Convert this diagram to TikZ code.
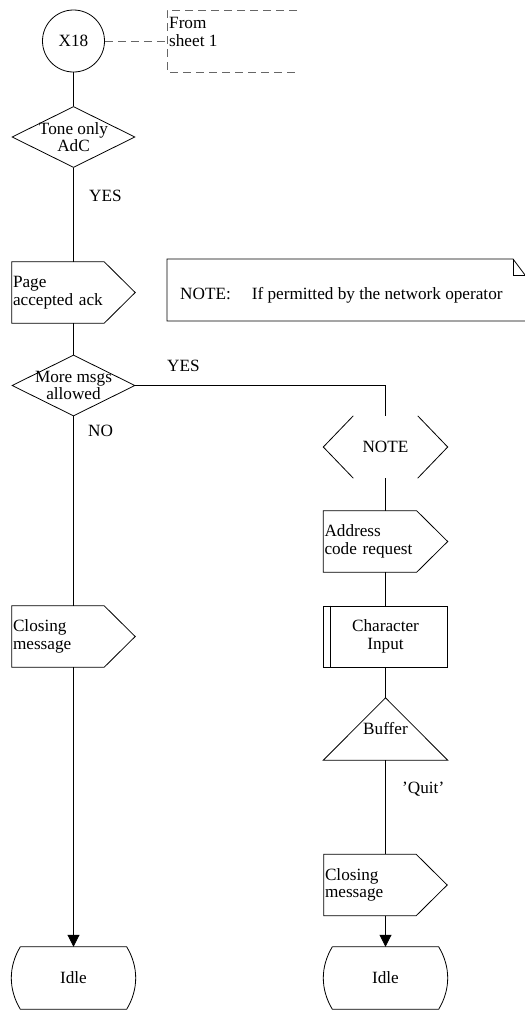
\documentclass[tikz,border=0pt]{standalone}
\usepackage{fontspec}
\setmainfont{Liberation Serif}
\usetikzlibrary{arrows.meta, shapes.geometric}

\tikzset{
  flow/.style={line width=0.8pt},
  flowarrow/.style={flow, -{Triangle[length=12pt,width=12pt]}},
  dashflow/.style={line width=0.8pt, gray!80!black, dash pattern=on 8pt off 5pt},
  symbox/.style={minimum width=124pt, minimum height=62pt, inner sep=0pt},
  sigbox/.style={minimum width=123pt, minimum height=61pt, text width=121pt,
    align=left, inner xsep=1pt, inner ysep=0pt},
  decision/.style={diamond, draw, line width=0.8pt, minimum width=123pt,
    minimum height=61pt, inner sep=0pt},
  lbl/.style={inner sep=0pt, anchor=west}
}
\newcommand{\sigoutline}[1]{%
  \draw[flow] (#1.north west) -- ([xshift=-31pt]#1.north east) -- (#1.east)
    -- ([xshift=-31pt]#1.south east) -- (#1.south west) -- cycle;}
\newcommand{\idleoutline}[1]{%
  \draw[flow] ([xshift=9pt]#1.north west) -- ([xshift=-9pt]#1.north east)
    .. controls ([xshift=3pt,yshift=-20pt]#1.north east) and ([xshift=3pt,yshift=20pt]#1.south east) .. ([xshift=-9pt]#1.south east)
    -- ([xshift=9pt]#1.south west)
    .. controls ([xshift=-3pt,yshift=20pt]#1.south west) and ([xshift=-3pt,yshift=-20pt]#1.north west) .. ([xshift=9pt]#1.north west);}

\begin{document}
\begin{tikzpicture}[x=1pt, y=-1pt, font=\fontsize{17.2}{17.5}\selectfont]
\useasboundingbox (0,0) rectangle (525,1010);
% left column
\node[circle, draw, flow, minimum size=62pt, inner sep=0pt] (x18) at (73.5,41) {X18};
\node[decision, label={[align=center]center:{Tone only\\AdC}}] (tone) at (73.5,137) {};
\node[sigbox] (page) at (73.5,292.5) {Page\\accepted ack};
\node[decision, label={[align=center]center:{More msgs\\allowed}}] (more) at (73.5,385.5) {};
\node[sigbox] (close1) at (73.5,636.5) {Closing\\message};
\node[symbox] (idle1) at (73.5,978) {Idle};
% right column
\node[symbox] (note2) at (385.5,447) {NOTE};
\node[sigbox, minimum width=124pt, text width=122pt] (addr) at (385.5,541.5) {Address\\code request};
\node[symbox, draw, flow, minimum height=61pt, align=center] (charin) at (385.5,636.5) {Character\\Input};
\node[symbox] (buffer) at (385.5,729) {Buffer};
\node[sigbox] (close2) at (385.5,885) {Closing\\message};
\node[symbox] (idle2) at (385.5,978) {Idle};
% outlines
\sigoutline{page}
\sigoutline{close1}
\sigoutline{addr}
\sigoutline{close2}
\idleoutline{idle1}
\idleoutline{idle2}
\draw[flow] ([xshift=30pt]note2.north west) -- (note2.west) -- ([xshift=30pt]note2.south west);
\draw[flow] ([xshift=-30pt]note2.north east) -- (note2.east) -- ([xshift=-30pt]note2.south east);
\draw[flow] ([xshift=7pt]charin.north west) -- ([xshift=7pt]charin.south west);
\draw[flow] (buffer.south west) -- (buffer.north) -- (buffer.south east) -- cycle;
% off-page reference
\draw[dashflow] (297,10) -- (167,10) -- (167,72) -- (297,72);
\coordinate (sheet1) at (167,41);
\node[lbl, align=left] (fromtxt) at (169,32) {From\\sheet 1};
\draw[dashflow] (x18.east) -- (sheet1);
% comment
\node[lbl] (notetxt) at (180,295) {NOTE:\hspace{21pt}If permitted by the network operator};
\draw[flow] (525,321) -- (167,321) -- (167,259) -- (513,259) -- (525,275);
\draw[flow] (513,259) -- (513,275) -- (525,275);
% connectors
\draw[flow] (x18.south) -- (tone.north);
\draw[flow] (tone.south) -- (page.north);
\draw[flow] (page.south) -- (more.north);
\draw[flow] (more.south) -- (close1.north);
\draw[flowarrow] (close1.south) -- (idle1.north);
\draw[flow] (more.east) -| (note2.north);
\draw[flow] (note2.south) -- (addr.north);
\draw[flow] (addr.south) -- (charin.north);
\draw[flow] (charin.south) -- (buffer.north);
\draw[flow] (buffer.south) -- (close2.north);
\draw[flowarrow] (close2.south) -- (idle2.north);
% labels
\node[lbl] (yes1) at (89,196) {YES};
\node[lbl] (yes2) at (167,366) {YES};
\node[lbl] (no) at (88,430.5) {NO};
\node[lbl] (quit) at (402,789) {'Quit'};
\end{tikzpicture}
\end{document}
